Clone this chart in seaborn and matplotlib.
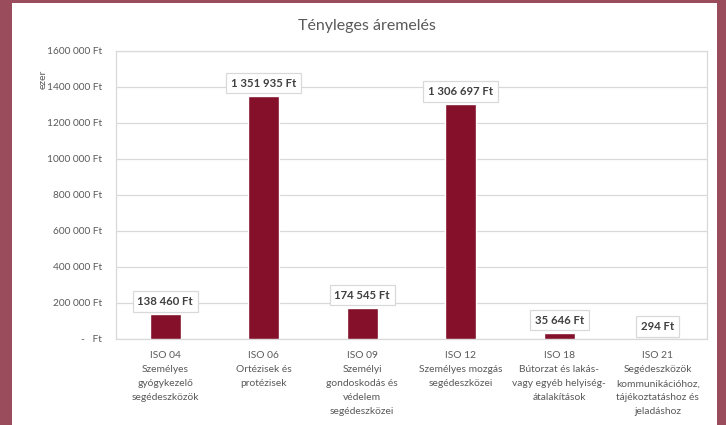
#!/usr/bin/env python3

import matplotlib
matplotlib.use("Agg")
import matplotlib.pyplot as plt
import matplotlib.patches as mpatches
import numpy as np
import pandas as pd
import seaborn as sns

# Data
categories = [
    "ISO 04\nSzemélyes\ngyógykezelő\nsegédeszközök",
    "ISO 06\nOrtézisek és\nprotézisek",
    "ISO 09\nSzemélyi\ngondoskodás és\nvédelem\nsegédeszközei",
    "ISO 12\nSzemélyes mozgás\nsegédeszközei",
    "ISO 18\nBútorzat és lakás-\nvagy egyéb helyiség-\nátalakítások",
    "ISO 21\nSegédeszközök\nkommunikációhoz,\ntájékoztatáshoz és\njeladáshoz",
]
values = [138460, 1351935, 174545, 1306697, 35646, 294]
value_labels = ["138 460 Ft", "1 351 935 Ft", "174 545 Ft", "1 306 697 Ft", "35 646 Ft", "294 Ft"]
yticks = [0, 200000, 400000, 600000, 800000, 1000000, 1200000, 1400000, 1600000]
ytick_labels = ["-   Ft", "200 000 Ft", "400 000 Ft", "600 000 Ft", "800 000 Ft",
                "1000 000 Ft", "1200 000 Ft", "1400 000 Ft", "1600 000 Ft"]

BAR_COLOR = "#85102a"
FRAME_COLOR = "#9b4c5c"
TEXT_COLOR = "#595959"
GRID_COLOR = "#d9d9d9"

sns.set_theme(style="white")
plt.rcParams["font.family"] = ["Lato", "DejaVu Sans"]

df = pd.DataFrame({"cat": categories, "val": values})

fig = plt.figure(figsize=(7.26, 4.25), dpi=100)
fig.patch.set_facecolor(FRAME_COLOR)
# white chart panel
fig.patches.append(mpatches.Rectangle((12 / 726, 0), 705 / 726, 422 / 425,
                                      transform=fig.transFigure, facecolor="white",
                                      edgecolor="none", zorder=-10))

ax = fig.add_axes([116 / 726, 1 - 339 / 425, 591 / 726, 288 / 425])
ax.set_zorder(2)
sns.barplot(data=df, x="cat", y="val", color=BAR_COLOR, width=0.31,
            saturation=1, ax=ax, zorder=3)

ax.set_ylim(0, 1600000)
ax.set_yticks(yticks)
ax.set_yticklabels(ytick_labels, fontsize=7.3, color=TEXT_COLOR)
ax.set_xticklabels(categories, fontsize=7.4, color=TEXT_COLOR, linespacing=1.7, va="top")
ax.tick_params(axis="both", length=0)
ax.tick_params(axis="x", pad=9)
ax.tick_params(axis="y", pad=10)
ax.set_xlabel("")
ax.set_ylabel("")
ax.grid(axis="y", color=GRID_COLOR, linewidth=0.9, zorder=0)
ax.set_axisbelow(True)
for spine in ax.spines.values():
    spine.set_visible(True)
    spine.set_color(GRID_COLOR)
    spine.set_linewidth(0.9)

# data labels
for i, (v, lab) in enumerate(zip(values, value_labels)):
    ax.annotate(lab, xy=(i, v), xytext=(0, 5), textcoords="offset points",
                ha="center", va="bottom", fontsize=8.2, fontweight="bold", color="#404040",
                bbox=dict(boxstyle="square,pad=0.42", facecolor="white",
                          edgecolor=GRID_COLOR, linewidth=0.9), zorder=5)

fig.text(367 / 726, 1 - 26 / 425, "Tényleges áremelés", ha="center", va="center",
         fontsize=11.5, color=TEXT_COLOR)
fig.text(43 / 726, 1 - 79 / 425, "ezer", ha="center", va="center", rotation=90,
         fontsize=7.5, color=TEXT_COLOR)

fig.savefig("out.png", dpi=100, facecolor=fig.get_facecolor())
plt.close(fig)
